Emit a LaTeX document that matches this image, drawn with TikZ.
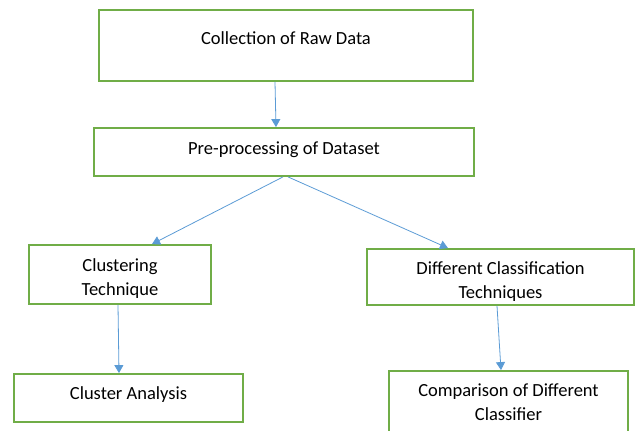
\documentclass[tikz,border=0pt]{standalone}
\usepackage{fontspec}
\setmainfont{Carlito}
\usetikzlibrary{arrows.meta, calc}
\definecolor{boxgreen}{HTML}{70AD47}
\definecolor{flowblue}{HTML}{5B9BD5}

\begin{document}
\begin{tikzpicture}[x=1pt, y=-1pt,
  stagebox/.style={draw=boxgreen, line width=1.8pt, fill=white, align=center,
    font=\fontsize{18.5}{24}\selectfont, inner sep=0pt},
  oneline/.style={stagebox, text height=13pt},
  twoline/.style={stagebox, text height=46pt, text depth=5pt},
  flow/.style={draw=flowblue, line width=0.8pt, -{Triangle[width=9pt,length=8pt]}}]
  % Page
  \useasboundingbox (0,0) rectangle (635,431);
  \clip (0,0) rectangle (635,431);

  % Stages
  \node[oneline, minimum width=374pt, minimum height=71pt, text depth=16pt] (raw) at (286,45.5) {Collection of Raw Data};
  \node[oneline, minimum width=380pt, minimum height=48pt, text depth=9pt] (prep) at (284,152) {Pre-processing of Dataset};
  \node[twoline, minimum width=182pt, minimum height=59pt] (clust) at (120,274.5) {Clustering\\Technique};
  \node[twoline, minimum width=267pt, minimum height=56pt, text height=47pt] (classif) at (500.5,277) {Different Classification\\Techniques};
  \node[oneline, minimum width=229pt, minimum height=48pt, text depth=11pt] (analysis) at (128.5,398) {Cluster Analysis};
  \node[twoline, minimum width=239pt, minimum height=66pt, text height=37pt] (compare) at (508.5,404) {Comparison of Different\\Classifier};

  % Arrows
  \draw[flow] ($(raw.south)+(-11,0)$) -- ($(prep.north)+(-8,0)$);
  \draw[flow] ($(prep.south)+(-1,0)$) -- ($(clust.north)+(32,0)$);
  \draw[flow] ($(prep.south)+(4,0)$) -- ($(classif.north)+(-52.5,0)$);
  \draw[flow] ($(clust.south)+(-2,0)$) -- ($(analysis.north)+(-9.5,0)$);
  \draw[flow] ($(classif.south)+(-3.5,0)$) -- ($(compare.north)+(-7.5,0)$);
\end{tikzpicture}
\end{document}
